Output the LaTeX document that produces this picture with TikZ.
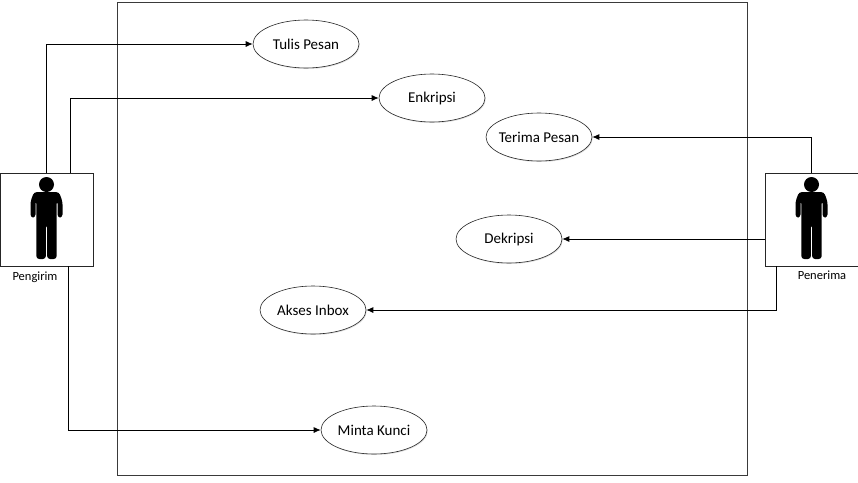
\documentclass[tikz,border=0pt]{standalone}
\usepackage{fontspec}
\setmainfont{Carlito}
\usetikzlibrary{
  arrows.meta,
  shapes.geometric,
  shadows
}
\definecolor{ucLine}{HTML}{262626}
\definecolor{ucFrame}{HTML}{3A3A3A}
\tikzset{
  usecase/.style={
    draw=ucLine, ellipse, fill=white, minimum width=106pt, minimum height=48pt,
    inner ysep=0pt, inner xsep=-6pt, font=\fontsize{15}{17}\selectfont, line width=0.6pt,
    drop shadow={shadow xshift=0.8pt, shadow yshift=-1pt, opacity=0.25}
  },
  actorbox/.style={
    draw=ucLine, fill=white, minimum width=93pt, minimum height=93pt,
    inner sep=0pt, line width=0.7pt
  },
  actorlabel/.style={font=\fontsize{12.5}{14}\selectfont, inner sep=0pt},
  frame/.style={draw=ucFrame, line width=0.8pt},
  flow/.style={-{Latex[length=7pt,width=6pt]}, line width=0.8pt, black},
  person/.pic={
    \fill[black] (0,-35) circle (7.5);
    \fill[black, rounded corners=3pt]
      (-16,-2) -- (-16,-18) -- (-12.5,-27.5) -- (12.5,-27.5) -- (16,-18) -- (16,-2)
      -- (11,-2) -- (11,-19) -- (10.2,-19) -- (10.2,39.5) -- (0.6,39.5) -- (0.6,5)
      -- (-0.6,5) -- (-0.6,39.5) -- (-10.2,39.5) -- (-10.2,-19) -- (-11,-19) -- (-11,-2) -- cycle;
  }
}
\begin{document}
\begin{tikzpicture}[x=1pt, y=-1pt]
  \useasboundingbox (0,0) rectangle (858,482);
  \node[frame, draw, minimum width=630pt, minimum height=473pt, inner sep=0pt] (sistem) at (432,238.5) {};
  \node[actorbox] (pengirim) at (46.5,219.5) {};
  \node[actorbox] (penerima) at (811.5,219.5) {};
  \pic at (pengirim.center) {person};
  \pic at (penerima.center) {person};
  \node[actorlabel] (lblpengirim) at (35,277) {Pengirim};
  \node[actorlabel] (lblpenerima) at (822,275) {Penerima};
  \node[usecase] (tulis) at (306,44) {Tulis Pesan};
  \node[usecase] (enkripsi) at (432,98) {Enkripsi};
  \node[usecase] (terima) at (539,137) {Terima Pesan};
  \node[usecase] (dekripsi) at (509,239) {Dekripsi};
  \node[usecase] (akses) at (313,310) {Akses Inbox};
  \node[usecase] (minta) at (374,430) {Minta Kunci};
  \draw[flow] (pengirim.north) |- (tulis);
  \draw[flow] ([xshift=23.5pt]pengirim.north) |- (enkripsi);
  \draw[flow] ([xshift=21.5pt]pengirim.south) |- (minta);
  \draw[flow] (penerima.north) |- (terima);
  \draw[flow] (penerima.west |- dekripsi) -- (dekripsi);
  \draw[flow] ([xshift=-35.5pt]penerima.south) |- (akses);
\end{tikzpicture}
\end{document}
